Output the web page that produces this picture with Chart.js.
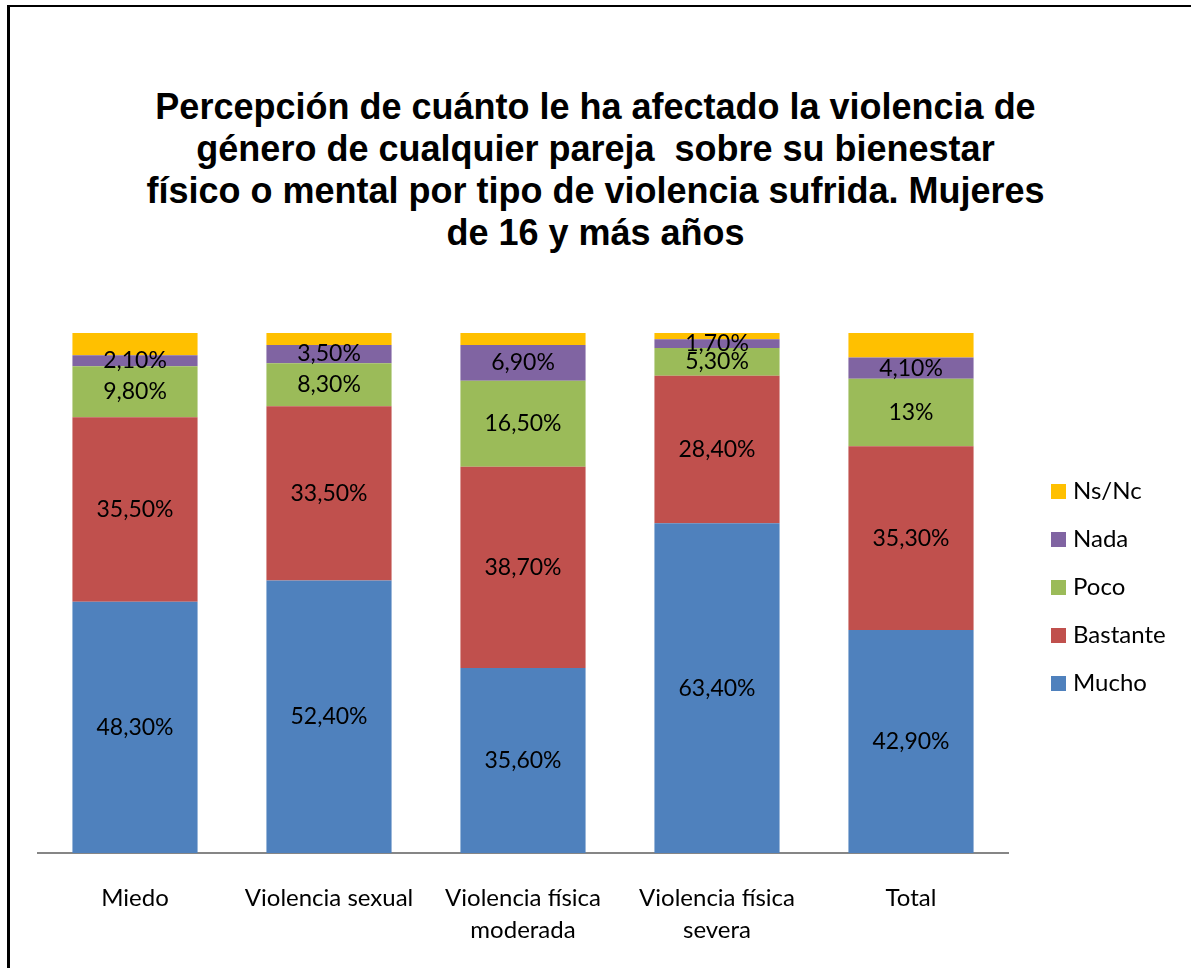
<!DOCTYPE html>
<html>
<head>
<meta charset="utf-8">
<script src="https://cdn.jsdelivr.net/npm/chart.js@4"></script>
<style>
  html, body { margin: 0; padding: 0; background: #fff; }
  body { width: 1191px; height: 968px; position: relative; overflow: hidden; }
  #frame { position: absolute; left: 7px; top: 5px; width: 1300px; height: 1100px;
           border-left: 3px solid #000; border-top: 2px solid #000; }
  #wrap { position: absolute; left: 0; top: 0; width: 1191px; height: 968px; }
  #title { position: absolute; left: 0; top: 86px; width: 1191px; text-align: center;
           font-family: "Liberation Sans", Arial, sans-serif; font-weight: bold;
           font-size: 36px; line-height: 42px; color: #000; white-space: pre; }
</style>
</head>
<body>
<div id="frame"></div>
<div id="title"></div>
<div id="wrap"><canvas id="chart"></canvas></div>
<script>
// categories and series (percent)
const categories = ['Miedo', 'Violencia sexual', ['Violencia física', 'moderada'], ['Violencia física', 'severa'], 'Total'];
const mucho    = [48.3, 52.4, 35.6, 63.4, 42.9];
const bastante = [35.5, 33.5, 38.7, 28.4, 35.3];
const poco     = [9.8, 8.3, 16.5, 5.3, 13];
const nada     = [2.1, 3.5, 6.9, 1.7, 4.1];
const nsnc     = [4.3, 2.3, 2.3, 1.2, 4.7];   // not labelled

const seriesNames  = ['Mucho', 'Bastante', 'Poco', 'Nada', 'Ns/Nc'];
const seriesColors = ['#4F81BD', '#C0504D', '#9BBB59', '#8064A2', '#FFC000'];
const seriesData   = [mucho, bastante, poco, nada, nsnc];
const showLabels   = [true, true, true, true, false];

const titleLines = [
  'Percepción de cuánto le ha afectado la violencia de',
  'género de cualquier pareja  sobre su bienestar',
  'físico o mental por tipo de violencia sufrida. Mujeres',
  'de 16 y más años'
];
document.getElementById('title').textContent = titleLines.join('\n');

const fontFamily = 'Lato, "Open Sans", sans-serif';

// Spanish number format: 48,30%  but 13 -> 13%
function fmtPct(v) {
  if (Number.isInteger(v)) return v + '%';
  return v.toFixed(2).replace('.', ',') + '%';
}

const labelPlugin = {
  id: 'segLabels',
  afterDatasetsDraw(chart) {
    const ctx = chart.ctx;
    ctx.save();
    ctx.font = '23px ' + fontFamily;
    ctx.fillStyle = '#000';
    ctx.textAlign = 'center';
    ctx.textBaseline = 'middle';
    chart.data.datasets.forEach((ds, i) => {
      if (!showLabels[i]) return;
      chart.getDatasetMeta(i).data.forEach((bar, j) => {
        const y = (bar.y + bar.base) / 2;
        ctx.fillText(fmtPct(ds.data[j]), bar.x, y);
      });
    });
    ctx.restore();
  }
};

// legend on the right, top item = last series
const legendPlugin = {
  id: 'sideLegend',
  afterDraw(chart) {
    const ctx = chart.ctx;
    const area = chart.chartArea;
    const x0 = area.right + 43;
    const step = 48;
    const n = seriesNames.length;
    const yTop = (area.top + area.bottom) / 2 - 6 - step * (n - 1) / 2;
    ctx.save();
    ctx.font = '24px ' + fontFamily;
    ctx.textBaseline = 'middle';
    ctx.textAlign = 'left';
    for (let k = 0; k < n; k++) {
      const i = n - 1 - k;
      const y = yTop + k * step;
      ctx.fillStyle = seriesColors[i];
      ctx.fillRect(x0, y - 7, 15, 15);
      ctx.fillStyle = '#000';
      ctx.fillText(seriesNames[i], x0 + 22, y);
    }
    ctx.restore();
  }
};

new Chart(document.getElementById('chart'), {
  type: 'bar',
  data: {
    labels: categories,
    datasets: seriesNames.map((name, i) => ({
      label: name,
      data: seriesData[i],
      backgroundColor: seriesColors[i],
      borderWidth: 0,
      categoryPercentage: 1,
      barPercentage: 0.645
    }))
  },
  options: {
    responsive: true,
    maintainAspectRatio: false,
    animation: false,
    layout: { padding: { left: 38, right: 183, top: 333, bottom: 20 } },
    scales: {
      x: {
        stacked: true,
        grid: { display: false },
        border: { display: true, color: '#868686', width: 2 },
        ticks: {
          color: '#000',
          padding: 22,
          maxRotation: 0,
          font: { family: fontFamily, size: 24, lineHeight: 1.3 }
        },
        afterFit(scale) { scale.height = 95; }
      },
      y: {
        stacked: true,
        display: false,
        min: 0,
        max: 100
      }
    },
    plugins: {
      legend: { display: false },
      tooltip: { enabled: false },
      title: { display: false }
    }
  },
  plugins: [labelPlugin, legendPlugin]
});
</script>
</body>
</html>
